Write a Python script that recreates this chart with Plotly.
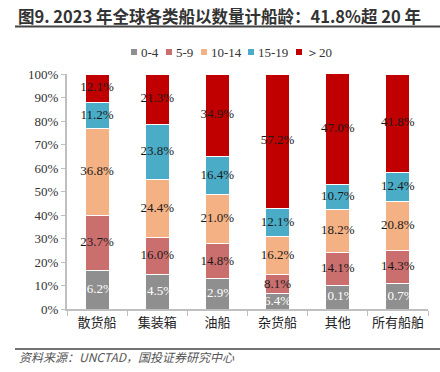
import plotly.graph_objects as go

categories = ["散货船", "集装箱", "油船", "杂货船", "其他", "所有船舶"]
series_names = ["0-4", "5-9", "10-14", "15-19", "＞20"]
s_0_4 = [16.2, 14.5, 12.9, 6.4, 10.1, 10.7]
s_5_9 = [23.7, 16.0, 14.8, 8.1, 14.1, 14.3]
s_10_14 = [36.8, 24.4, 21.0, 16.2, 18.2, 20.8]
s_15_19 = [11.2, 23.8, 16.4, 12.1, 10.7, 12.4]
s_20 = [12.1, 21.3, 34.9, 57.2, 47.0, 41.8]
y_ticks = [0, 10, 20, 30, 40, 50, 60, 70, 80, 90, 100]

series = [s_0_4, s_5_9, s_10_14, s_15_19, s_20]
colors = ["#8f8f8f", "#cb6f6e", "#f4b183", "#4aacc6", "#c00000"]
text_colors = ["white", "#1a1a1a", "#1a1a1a", "#1a1a1a", "#1a1a1a"]

SERIF = "Liberation Serif, DejaVu Serif, serif"
CJK = "Noto Sans CJK SC"

W, H = 440, 372
ML, MR, MT, MB = 67, 12, 74, 63
PW, PH = W - ML - MR, H - MT - MB


def px(x):
    return (x - ML) / PW


def py(y):
    return 1 - (y - MT) / PH


fig = go.Figure()
for name, vals, col in zip(series_names, series, colors):
    fig.add_trace(go.Bar(
        x=categories, y=vals, name=name,
        marker=dict(color=col, line=dict(color="white", width=1)),
        width=0.4, hoverinfo="skip", showlegend=False,
    ))

# data labels at segment midpoints
base = [0.0] * len(categories)
for vals, tc in zip(series, text_colors):
    mids = [b + v / 2 for b, v in zip(base, vals)]
    fig.add_trace(go.Scatter(
        x=categories, y=mids, mode="text",
        text=[f"{v:.1f}%" for v in vals],
        textfont=dict(family=SERIF, size=13, color=tc),
        showlegend=False, hoverinfo="skip",
    ))
    base = [b + v for b, v in zip(base, vals)]

# custom compact legend
legend_x = [131, 166, 201, 248, 296]
shapes = []
annotations = []
for lx, name, col in zip(legend_x, series_names, colors):
    shapes.append(dict(type="rect", xref="paper", yref="paper",
                       x0=px(lx), x1=px(lx + 6), y0=py(55), y1=py(49),
                       fillcolor=col, line=dict(width=0)))
    annotations.append(dict(text=name, xref="paper", yref="paper",
                            x=px(lx + 8), y=py(52), xanchor="left", yanchor="middle",
                            showarrow=False,
                            font=dict(family=SERIF, size=13, color="#333333")))

annotations += [
    dict(text="<b>图9. 2023 年全球各类船以数量计船龄：41.8%超 20 年</b>",
         xref="paper", yref="paper", x=px(16), y=py(16),
         xanchor="left", yanchor="middle", showarrow=False,
         font=dict(family=CJK, size=16.5, color="#333333")),
    dict(text="<i>资料来源：UNCTAD，国投证券研究中心</i>",
         xref="paper", yref="paper", x=px(17), y=py(356),
         xanchor="left", yanchor="middle", showarrow=False,
         font=dict(family=CJK, size=12, color="#555555")),
]
shapes += [
    dict(type="line", xref="paper", yref="paper",
         x0=px(15), x1=px(440), y0=py(26.5), y1=py(26.5),
         line=dict(color="#444444", width=2)),
    dict(type="line", xref="paper", yref="paper",
         x0=px(15), x1=px(440), y0=py(349), y1=py(349),
         line=dict(color="#444444", width=1.5)),
]

fig.update_layout(
    width=W, height=H,
    barmode="stack",
    paper_bgcolor="white", plot_bgcolor="white",
    margin=dict(l=ML, r=MR, t=MT, b=MB, autoexpand=False),
    showlegend=False,
    xaxis=dict(
        type="category", showline=True, linecolor="#bfbfbf", linewidth=2,
        ticks="outside", tickson="boundaries", ticklen=5, tickcolor="#bfbfbf", tickwidth=1,
        tickfont=dict(family=CJK, size=13, color="#222222"), tickangle=0,
        showgrid=False, range=[-0.5, 5.5],
    ),
    yaxis=dict(
        range=[0, 100], tickvals=y_ticks, ticktext=[f"{t}%" for t in y_ticks],
        showline=True, linecolor="#bfbfbf", linewidth=2,
        ticks="outside", ticklen=4, tickcolor="#bfbfbf", tickwidth=1,
        tickfont=dict(family=SERIF, size=13, color="#333333"),
        showgrid=False, zeroline=False,
    ),
    annotations=annotations,
    shapes=shapes,
)

fig.write_html("out.html", config={"displayModeBar": False},
               post_script="document.body.style.margin='0';")
